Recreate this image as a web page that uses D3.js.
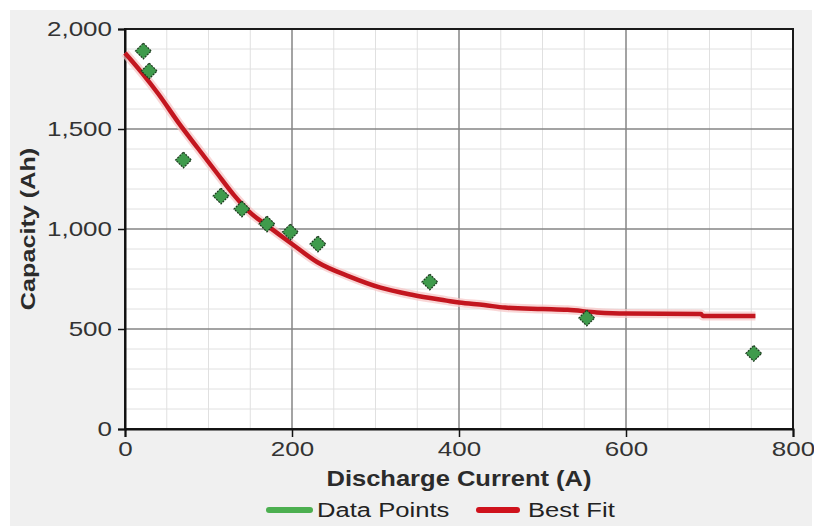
<!DOCTYPE html>
<html>
<head>
<meta charset="utf-8">
<script src="https://cdn.jsdelivr.net/npm/d3@7"></script>
<style>
  html, body { margin: 0; padding: 0; background: #ffffff; }
  svg { display: block; }
  text { font-family: "Liberation Sans", Arial, sans-serif; }
</style>
</head>
<body>
<svg id="chart" width="814" height="526"></svg>
<script>
// Measured discharge test results
const currentA = [22, 29, 70, 115, 140, 170, 198, 231, 365, 553, 753];
const capacityAh = [1890, 1790, 1345, 1165, 1100, 1025, 985, 925, 735, 555, 378];

// Best-fit curve samples
const fitX = [0, 20, 40, 64, 88, 110, 130, 150, 170, 200, 230, 269, 305, 345, 385, 400, 430, 455, 500, 530, 565, 600, 690, 692, 755];
const fitY = [1880, 1782, 1675, 1532, 1400, 1280, 1172, 1082, 1018, 925, 835, 762, 708, 670, 642, 632, 620, 607, 600, 596, 583, 577, 575, 565, 565];

// Axis ticks
const xTicks = [0, 200, 400, 600, 800];
const yTicks = [0, 500, 1000, 1500, 2000];
const xMinorStep = 50;
const yMinorStep = 100;

const seriesNames = ["Data Points", "Best Fit"];

const svg = d3.select("#chart");
const W = 814, H = 526;
const plot = { left: 125, top: 29, right: 793, bottom: 429 };

const x = d3.scaleLinear().domain([0, 800]).range([plot.left, plot.right]);
const y = d3.scaleLinear().domain([0, 2000]).range([plot.bottom, plot.top]);

// Panel background
svg.append("rect").attr("width", W).attr("height", H).attr("fill", "#ffffff");
svg.append("rect").attr("x", 10).attr("y", 10).attr("width", 802).attr("height", H - 10).attr("fill", "#f0f0f0");

// Plot area
svg.append("rect")
  .attr("x", plot.left).attr("y", plot.top)
  .attr("width", plot.right - plot.left).attr("height", plot.bottom - plot.top)
  .attr("fill", "#ffffff");

const grid = svg.append("g");
const xMinor = d3.range(0, 801, xMinorStep).filter(v => !xTicks.includes(v));
const yMinor = d3.range(0, 2001, yMinorStep).filter(v => !yTicks.includes(v));

grid.selectAll("line.xm").data(xMinor).join("line")
  .attr("x1", d => x(d)).attr("x2", d => x(d))
  .attr("y1", plot.top).attr("y2", plot.bottom)
  .attr("stroke", "#e0e0e0").attr("stroke-width", 1);
grid.selectAll("line.ym").data(yMinor).join("line")
  .attr("x1", plot.left).attr("x2", plot.right)
  .attr("y1", d => y(d)).attr("y2", d => y(d))
  .attr("stroke", "#e0e0e0").attr("stroke-width", 1);

grid.selectAll("line.xM").data(xTicks.slice(1, -1)).join("line")
  .attr("x1", d => x(d)).attr("x2", d => x(d))
  .attr("y1", plot.top).attr("y2", plot.bottom)
  .attr("stroke", "#858585").attr("stroke-width", 1.5);
grid.selectAll("line.yM").data(yTicks.slice(1, -1)).join("line")
  .attr("x1", plot.left).attr("x2", plot.right)
  .attr("y1", d => y(d)).attr("y2", d => y(d))
  .attr("stroke", "#858585").attr("stroke-width", 1.5);

// Plot frame
svg.append("rect")
  .attr("x", plot.left).attr("y", plot.top)
  .attr("width", plot.right - plot.left).attr("height", plot.bottom - plot.top)
  .attr("fill", "none").attr("stroke", "#1a1a1a").attr("stroke-width", 2);

// Axes
const tickSX = 1.3;
const yAxis = svg.append("g")
  .attr("transform", `translate(${plot.left},0)`)
  .call(d3.axisLeft(y).tickValues(yTicks).tickFormat(d3.format(",")).tickSize(7).tickPadding(6));
const xAxis = svg.append("g")
  .attr("transform", `translate(0,${plot.bottom})`)
  .call(d3.axisBottom(x).tickValues(xTicks).tickFormat(d3.format(",")).tickSize(8).tickPadding(5));

[yAxis, xAxis].forEach(a => {
  a.select(".domain").attr("stroke", "#111").attr("stroke-width", 2);
  a.selectAll(".tick line").attr("stroke", "#111").attr("stroke-width", 1.5);
  a.selectAll(".tick text")
    .attr("font-size", 20)
    .attr("fill", "#333")
    .attr("font-family", "'Liberation Sans', Arial, sans-serif");
});
yAxis.selectAll(".tick text").attr("x", -13 / tickSX).attr("transform", `scale(${tickSX},1)`);
xAxis.selectAll(".tick text").attr("y", 13).attr("transform", `scale(${tickSX},1)`);

// Best-fit curve
const fitData = fitX.map((v, i) => [v, fitY[i]]);
const line = d3.line().x(d => x(d[0])).y(d => y(d[1])).curve(d3.curveMonotoneX);
svg.append("path").datum(fitData)
  .attr("d", line).attr("fill", "none")
  .attr("stroke", "#f6c4c4").attr("stroke-width", 9).attr("stroke-linejoin", "round").attr("opacity", 0.7);
svg.append("path").datum(fitData)
  .attr("d", line).attr("fill", "none")
  .attr("stroke", "#c3161f").attr("stroke-width", 4.5).attr("stroke-linejoin", "round");

// Data points as diamonds
const diamond = d3.symbol().type(d3.symbolSquare).size(124);
svg.append("g").selectAll("path").data(currentA.map((v, i) => [v, capacityAh[i]])).join("path")
  .attr("d", diamond)
  .attr("transform", d => `translate(${x(d[0])},${y(d[1])}) rotate(45)`)
  .attr("fill", "#3f9b4c").attr("stroke", "#1c3a1e").attr("stroke-width", 1.2)
  .attr("stroke-dasharray", "2,1");

// Axis titles
svg.append("text")
  .attr("transform", `translate(459,486) scale(1.16,1)`)
  .attr("text-anchor", "middle").attr("font-size", 22).attr("font-weight", "bold")
  .attr("fill", "#2b2b2b").text("Discharge Current (A)");
svg.append("text")
  .attr("transform", `translate(35,229) rotate(-90) scale(1.2,1)`)
  .attr("text-anchor", "middle").attr("font-size", 21).attr("font-weight", "bold")
  .attr("fill", "#2b2b2b").text("Capacity (Ah)");

// Legend
const legend = svg.append("g");
const legendItems = [
  { name: seriesNames[0], color: "#4caf50", x1: 269, x2: 310, tx: 317 },
  { name: seriesNames[1], color: "#cf121c", x1: 479, x2: 517, tx: 528 }
];
legendItems.forEach(it => {
  legend.append("line")
    .attr("x1", it.x1).attr("x2", it.x2).attr("y1", 510).attr("y2", 510)
    .attr("stroke", it.color).attr("stroke-width", 6).attr("stroke-linecap", "round");
  legend.append("text")
    .attr("transform", `translate(${it.tx},517) scale(1.22,1)`)
    .attr("font-size", 21).attr("fill", "#222").text(it.name);
});
</script>
</body>
</html>
